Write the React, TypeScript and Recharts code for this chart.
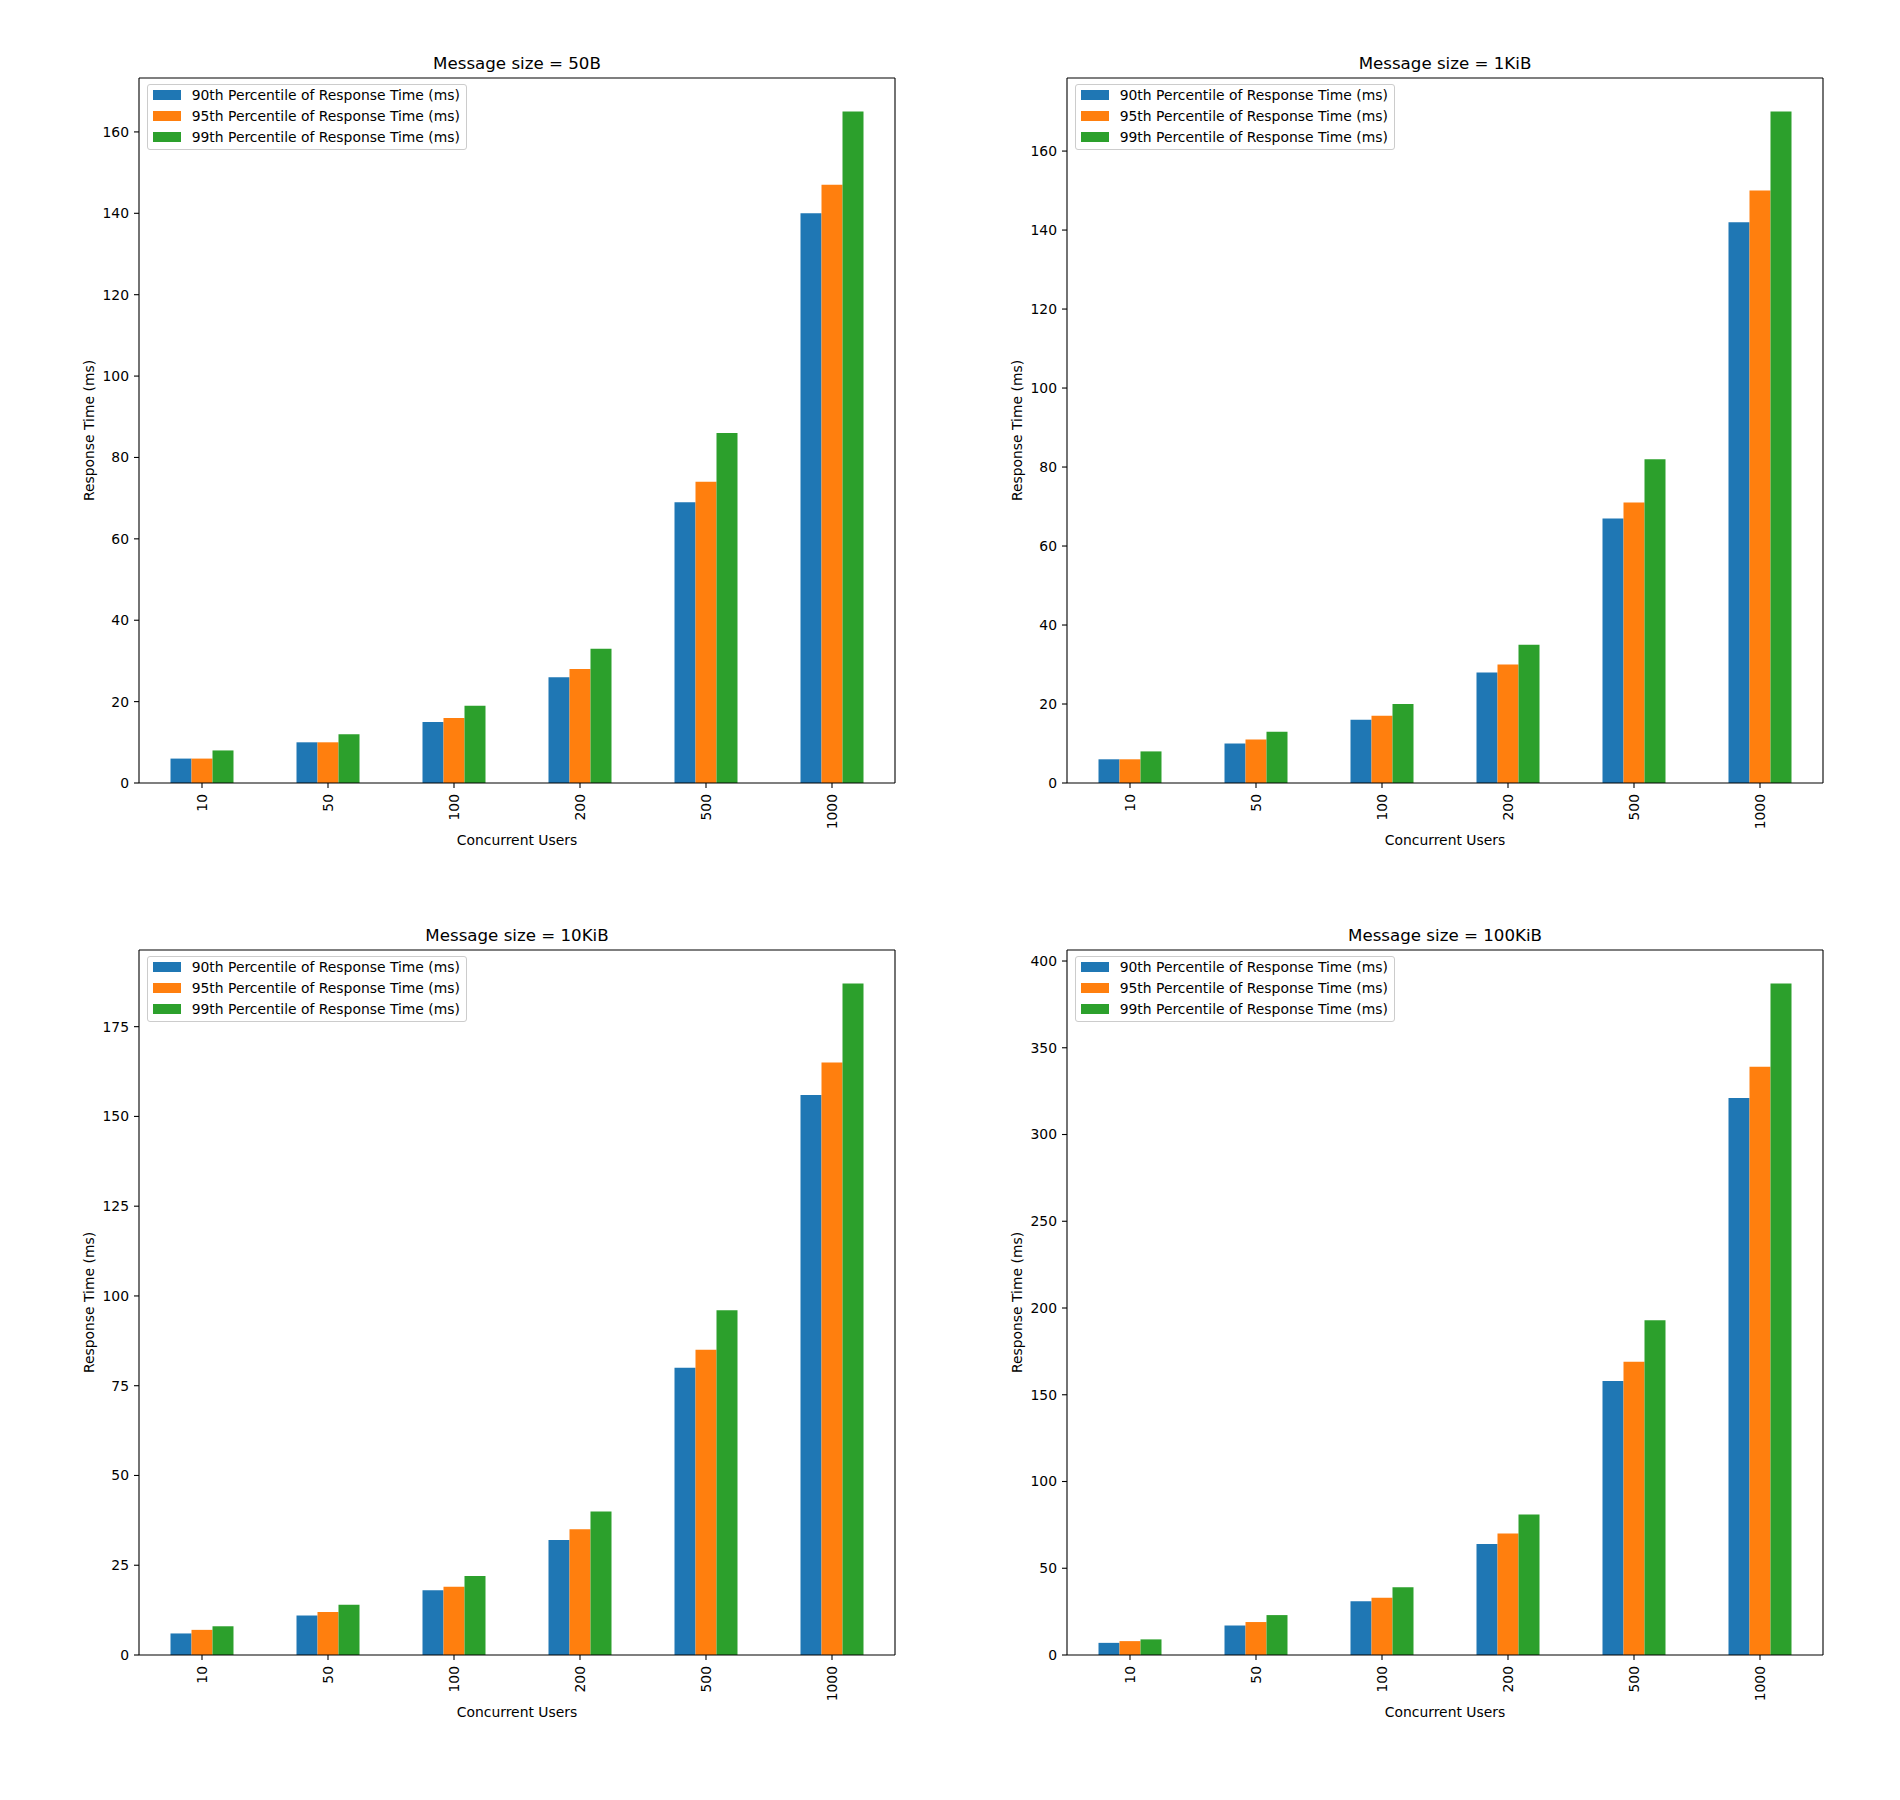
import React from 'react';
import { BarChart, Bar, XAxis, YAxis, Legend, CartesianGrid } from 'recharts';

const FONT = '"DejaVu Sans", sans-serif';

const users = ['10', '50', '100', '200', '500', '1000'];
const seriesNames = [
  '90th Percentile of Response Time (ms)',
  '95th Percentile of Response Time (ms)',
  '99th Percentile of Response Time (ms)',
];
const colors = ['#1f77b4', '#ff7f0e', '#2ca02c'];
const titles = ['Message size = 50B', 'Message size = 1KiB', 'Message size = 10KiB', 'Message size = 100KiB'];

// 50B
const p90_50B = [6, 10, 15, 26, 69, 140];
const p95_50B = [6, 10, 16, 28, 74, 147];
const p99_50B = [8, 12, 19, 33, 86, 165];
// 1KiB
const p90_1KiB = [6, 10, 16, 28, 67, 142];
const p95_1KiB = [6, 11, 17, 30, 71, 150];
const p99_1KiB = [8, 13, 20, 35, 82, 170];
// 10KiB
const p90_10KiB = [6, 11, 18, 32, 80, 156];
const p95_10KiB = [7, 12, 19, 35, 85, 165];
const p99_10KiB = [8, 14, 22, 40, 96, 187];
// 100KiB
const p90_100KiB = [7, 17, 31, 64, 158, 321];
const p95_100KiB = [8, 19, 33, 70, 169, 339];
const p99_100KiB = [9, 23, 39, 81, 193, 387];

const ticks20 = [0, 20, 40, 60, 80, 100, 120, 140, 160];
const ticks25 = [0, 25, 50, 75, 100, 125, 150, 175];
const ticks50 = [0, 50, 100, 150, 200, 250, 300, 350, 400];

const panels = [
  { title: titles[0], p90: p90_50B, p95: p95_50B, p99: p99_50B, ticks: ticks20 },
  { title: titles[1], p90: p90_1KiB, p95: p95_1KiB, p99: p99_1KiB, ticks: ticks20 },
  { title: titles[2], p90: p90_10KiB, p95: p95_10KiB, p99: p99_10KiB, ticks: ticks25 },
  { title: titles[3], p90: p90_100KiB, p95: p95_100KiB, p99: p99_100KiB, ticks: ticks50 },
];

// plot-area geometry (px)
const AX_W = 756;
const AX_H = 705;
const COL_X = [139, 1067];
const ROW_Y = [78, 950];
const YW = 100;
const MT = 40;
const MR = 10;
const XH = 80;

const black = { stroke: '#000', strokeWidth: 1.1 };
const tickStyle = { fontSize: 13.9, fill: '#000', fontFamily: FONT };

const RotatedTick = (props: any) => {
  const { x, y, payload } = props;
  const ty = y + 1;
  return (
    <text
      x={x}
      y={ty}
      transform={`rotate(-90 ${x} ${ty})`}
      textAnchor="end"
      dy="0.355em"
      fontSize={13.9}
      fontFamily={FONT}
      fill="#000"
    >
      {payload.value}
    </text>
  );
};

const yLabel = (props: any) => {
  const vb = props.viewBox;
  const x = vb.x + vb.width - 45.4;
  const y = vb.y + vb.height / 2;
  return (
    <text x={x} y={y} transform={`rotate(-90 ${x} ${y})`} textAnchor="middle" fontSize={13.9} fontFamily={FONT} fill="#000">
      Response Time (ms)
    </text>
  );
};

const xLabel = (props: any) => {
  const vb = props.viewBox;
  return (
    <text x={vb.x + vb.width / 2} y={vb.y + 62} textAnchor="middle" fontSize={13.9} fontFamily={FONT} fill="#000">
      Concurrent Users
    </text>
  );
};

// top and right spines, placed at the plot edges
const topEdge = ({ offset }: any) => [offset.top];
const rightEdge = ({ offset }: any) => [offset.left + offset.width];

const LegendBox = (props: any) => {
  const { payload } = props;
  return (
    <div
      style={{
        border: '1px solid #cccccc',
        borderRadius: 3,
        background: 'rgba(255,255,255,0.8)',
        padding: '3px 6px 5px 5px',
        fontFamily: FONT,
        fontSize: 13.9,
        color: '#000',
        whiteSpace: 'nowrap',
      }}
    >
      {(payload || []).map((entry: any, i: number) => (
        <div
          key={entry.value}
          style={{ display: 'flex', alignItems: 'center', height: 14, marginTop: i === 0 ? 0 : 7 }}
        >
          <span style={{ display: 'inline-block', width: 28, height: 10, background: entry.color, marginRight: 11 }} />
          <span style={{ lineHeight: '14px' }}>{entry.value}</span>
        </div>
      ))}
    </div>
  );
};

function Panel({ index }: { index: number }) {
  const p = panels[index];
  const data = users.map((u, i) => ({ users: u, p90: p.p90[i], p95: p.p95[i], p99: p.p99[i] }));
  const axLeft = COL_X[index % 2];
  const axTop = ROW_Y[Math.floor(index / 2)];
  const left = axLeft - YW;
  const top = axTop - MT;
  const width = YW + AX_W + MR;
  const height = MT + AX_H + XH;

  return (
    <>
      <div
        style={{
          position: 'absolute',
          left: axLeft,
          top: axTop - 22.4,
          width: AX_W,
          textAlign: 'center',
          fontFamily: FONT,
          fontSize: 16.67,
          lineHeight: '16.67px',
          color: '#000',
          whiteSpace: 'nowrap',
        }}
      >
        {p.title}
      </div>
      <div style={{ position: 'absolute', left, top, width, height }}>
        <BarChart
          width={width}
          height={height}
          data={data}
          margin={{ top: MT, right: MR, bottom: 0, left: 0 }}
          barCategoryGap="25%"
          barGap={0}
        >
          <CartesianGrid
            stroke="#000"
            strokeWidth={1.1}
            horizontalCoordinatesGenerator={topEdge}
            verticalCoordinatesGenerator={rightEdge}
          />
          <XAxis
            dataKey="users"
            interval={0}
            height={XH}
            axisLine={black}
            tickLine={black}
            tickSize={5}
            tickMargin={5}
            tick={RotatedTick}
            label={xLabel}
          />
          <YAxis
            width={YW}
            type="number"
            domain={[0, (max: number) => max * 1.05]}
            allowDataOverflow
            ticks={p.ticks}
            interval={0}
            axisLine={black}
            tickLine={black}
            tickSize={5}
            tickMargin={5}
            tick={tickStyle}
            label={yLabel}
          />
          <Legend
            layout="vertical"
            align="center"
            verticalAlign="middle"
            content={LegendBox}
            wrapperStyle={{ left: YW + 7.7, top: MT + 6.3, width: 'auto' }}
          />
          <Bar dataKey="p90" name={seriesNames[0]} fill={colors[0]} isAnimationActive={false} />
          <Bar dataKey="p95" name={seriesNames[1]} fill={colors[1]} isAnimationActive={false} />
          <Bar dataKey="p99" name={seriesNames[2]} fill={colors[2]} isAnimationActive={false} />
        </BarChart>
      </div>
    </>
  );
}

export default function App() {
  return (
    <div style={{ position: 'absolute', left: 0, top: 0, width: 1900, height: 1800, background: '#fff' }}>
      {panels.map((_, i) => (
        <Panel key={i} index={i} />
      ))}
    </div>
  );
}
